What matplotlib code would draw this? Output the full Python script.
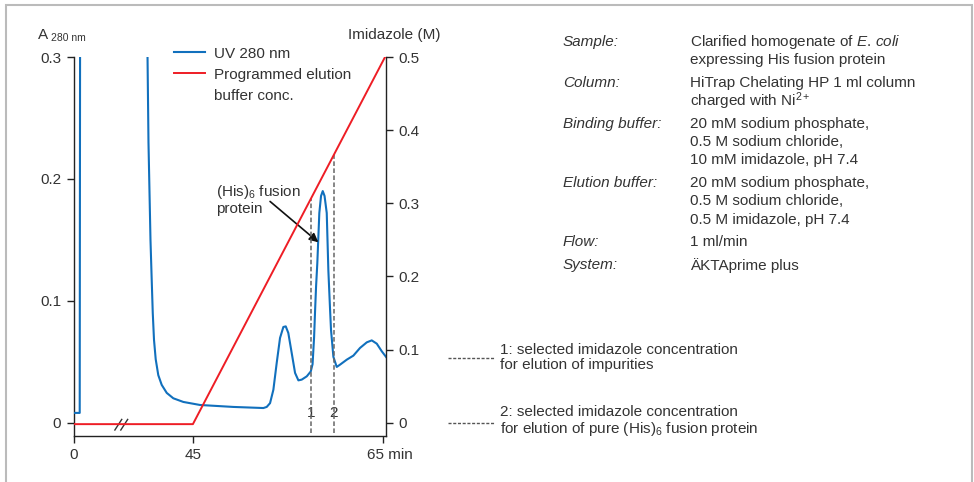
import numpy as np
import matplotlib
matplotlib.use("Agg")
import matplotlib.pyplot as plt
import matplotlib.transforms as mtransforms
from matplotlib.lines import Line2D
from matplotlib.patches import Rectangle

plt.rcParams['font.family'] = ['Liberation Sans', 'DejaVu Sans']
plt.rcParams['mathtext.fontset'] = 'custom'
plt.rcParams['mathtext.rm'] = 'Liberation Sans'
plt.rcParams['mathtext.it'] = 'Liberation Sans:italic'
plt.rcParams['mathtext.default'] = 'regular'
plt.rcParams['font.size'] = 11

TXT = '#333333'
BLUE = '#1170bd'
RED = '#ee1d25'

# UV 280 nm trace (min, A280); values above 0.3 run off the top of the plot
uv_time = [0, 0.6, 0.65, 40.21, 40.23, 40.33, 40.54, 40.67, 40.78, 40.91, 41.09,
           41.36, 41.72, 42.25, 42.94, 43.99, 45.75, 49.25, 52.41, 52.76, 53.11,
           53.46, 53.81, 54.16, 54.51, 54.76, 55.03, 55.39, 55.74, 56.09, 56.44,
           56.97, 57.39, 57.58, 57.74, 57.85, 57.95, 58.08, 58.29, 58.47, 58.65,
           58.84, 59.07, 59.24, 59.42, 59.52, 59.77, 60.12, 60.47, 61.18, 61.87,
           62.57, 63.28, 63.80, 64.33, 64.86, 65.31]
uv_abs = [0.008, 0.008, 0.40, 0.40, 0.30, 0.23, 0.15, 0.117, 0.090, 0.068, 0.052,
          0.039, 0.031, 0.0244, 0.020, 0.017, 0.0145, 0.0129, 0.012, 0.0129, 0.016,
          0.027, 0.049, 0.0695, 0.0785, 0.079, 0.0736, 0.057, 0.0408, 0.0347, 0.0353,
          0.038, 0.042, 0.048, 0.070, 0.093, 0.112, 0.131, 0.172, 0.186, 0.190,
          0.186, 0.172, 0.125, 0.0927, 0.076, 0.054, 0.0457, 0.0476, 0.0517, 0.055,
          0.0613, 0.0659, 0.0675, 0.0648, 0.0585, 0.0539]

# programmed elution buffer (min, imidazole M)
grad_time = [0, 45, 65.2]
grad_conc = [-0.002, -0.002, 0.5]

# selected imidazole concentrations
sel_time = [57.4, 59.8]
sel_label = ['1', '2']

xticks = [0, 45, 65]
xticklabels = ['0', '45', '65 min']
left_ticks = [0, 0.1, 0.2, 0.3]
left_ticklabels = ['0', '0.1', '0.2', '0.3']
right_ticks = [0, 0.1, 0.2, 0.3, 0.4, 0.5]
right_ticklabels = ['0', '0.1', '0.2', '0.3', '0.4', '0.5']

info_labels = ['Sample:', 'Column:', 'Binding buffer:', 'Elution buffer:', 'Flow:', 'System:']
info_values = [
    ['Clarified homogenate of $\\mathit{E.\\,coli}$', 'expressing His fusion protein'],
    ['HiTrap Chelating HP 1 ml column', 'charged with Ni$^{2+}$'],
    ['20 mM sodium phosphate,', '0.5 M sodium chloride,', '10 mM imidazole, pH 7.4'],
    ['20 mM sodium phosphate,', '0.5 M sodium chloride,', '0.5 M imidazole, pH 7.4'],
    ['1 ml/min'],
    ['ÄKTAprime plus'],
]
notes = [
    '1: selected imidazole concentration\nfor elution of impurities',
    '2: selected imidazole concentration\nfor elution of pure (His)$_6$ fusion protein',
]

# broken time axis: 5 .. 37.5 min is cut out
BRK0, BRK1 = 5.0, 37.5


def fwd(t):
    t = np.asarray(t, dtype=float)
    return np.where(t <= BRK0, t, np.where(t >= BRK1, t - (BRK1 - BRK0), BRK0))


def inv(u):
    u = np.asarray(u, dtype=float)
    return np.where(u <= BRK0, u, u + (BRK1 - BRK0))


W, H = 974, 482
fig = plt.figure(figsize=(W / 100, H / 100), dpi=100)
ax = fig.add_axes([74 / W, 1 - 435.7 / H, 312 / W, 378.7 / H])
ax.set_xscale('function', functions=(fwd, inv))
ax.set_xlim(0, 65.3)
ax.set_ylim(-0.0107, 0.3)

ax2 = ax.twinx()
ax2.set_ylim(-0.0178, 0.5)

ax.plot(uv_time, uv_abs, color=BLUE, lw=1.5, label='UV 280 nm', zorder=3)
ax2.plot(grad_time, grad_conc, color=RED, lw=1.4, zorder=3)

# dashed selection lines up to the gradient
tops = np.interp(sel_time, grad_time, grad_conc)
ax2.vlines(sel_time, -0.0145, tops, colors='#666666', lw=1.1,
           linestyles=(0, (3, 1.6)), zorder=2)
for t, lab in zip(sel_time, sel_label):
    ax.text(t, 0.0082, lab, ha='center', va='center', color=TXT, fontsize=11,
            bbox=dict(facecolor='white', edgecolor='none', pad=0.3), zorder=4)

# spines and ticks
for s in ['top', 'right']:
    ax.spines[s].set_visible(False)
for s in ['top', 'left', 'bottom']:
    ax2.spines[s].set_visible(False)
for a in (ax, ax2):
    for s in a.spines.values():
        s.set_color('#222222')
        s.set_linewidth(1.0)
ax.set_xticks(xticks)
ax.set_xticklabels(xticklabels)
ax.xaxis.set_minor_locator(matplotlib.ticker.NullLocator())
ax.set_yticks(left_ticks)
ax.set_yticklabels(left_ticklabels)
ax2.set_yticks(right_ticks)
ax2.set_yticklabels(right_ticklabels)
ax.tick_params(axis='both', length=5.2, width=1, color='#222222', labelcolor=TXT,
               labelsize=11, pad=4)
ax.tick_params(axis='x', pad=3.5)
ax2.tick_params(axis='y', length=5, width=1, color='#222222', labelcolor=TXT,
                labelsize=11, pad=3.6)
labs = ax.get_xticklabels()
labs[-1].set_transform(labs[-1].get_transform() +
                       mtransforms.ScaledTranslation(7 / 100, 0, fig.dpi_scale_trans))

# break mark on the time axis
for x0 in (0.131, 0.150):
    ax.plot([x0, x0 + 0.022], [0.015, 0.043], transform=ax.transAxes,
            color='#333333', lw=1.0, clip_on=False, zorder=5)

# annotation of the target peak
ax.text(47.43, 0.183, '(His)$_6$ fusion\nprotein', ha='left', va='center',
        color=TXT, fontsize=11, linespacing=1.1)
ax.annotate('', xy=(58.19, 0.148), xytext=(53.11, 0.1815),
            arrowprops=dict(arrowstyle='-|>', color='#111111', lw=1.2,
                            mutation_scale=13, shrinkA=0, shrinkB=0))

# legend
handles = [Line2D([], [], color=BLUE, lw=1.5),
           Line2D([], [], color=RED, lw=1.4),
           Line2D([], [], color='none')]
ax.legend(handles, ['UV 280 nm', 'Programmed elution', 'buffer conc.'],
          loc='upper left', bbox_to_anchor=(0.3205, 1.027), frameon=False,
          borderpad=0, borderaxespad=0, handlelength=2.05, handletextpad=0.6,
          labelspacing=0.45, fontsize=11, labelcolor=TXT)

# axis titles
fig.text(38 / W, 1 - 35 / H, 'A', ha='left', va='center', color=TXT, fontsize=11)
fig.text(51 / W, 1 - 38.5 / H, '280 nm', ha='left', va='center', color=TXT, fontsize=7.5)
fig.text(394 / W, 1 - 35 / H, 'Imidazole (M)', ha='center', va='center', color=TXT,
         fontsize=11)

# run conditions
y = 42.0
for lab, vals in zip(info_labels, info_values):
    fig.text(563 / W, 1 - y / H, lab, ha='left', va='center', color=TXT,
             fontsize=11, style='italic')
    for v in vals:
        fig.text(690 / W, 1 - y / H, v, ha='left', va='center', color=TXT, fontsize=11)
        y += 18.2
    y += 4.6

# notes for the dashed lines
for note, yp, yd in zip(notes, [357.5, 421.8], [358, 422.7]):
    fig.add_artist(Line2D([448 / W, 494 / W], [1 - yd / H, 1 - yd / H], color='#555555',
                          lw=1.0, linestyle=(0, (2.2, 1.2))))
    fig.text(500 / W, 1 - yp / H, note, ha='left', va='center', color=TXT,
             fontsize=11, linespacing=1.1)

# light frame around the figure
fig.add_artist(Rectangle((6 / W, -0.05), 966 / W, 1.05 - 4.5 / H, transform=fig.transFigure,
                         fill=False, edgecolor='#bbbbbb', lw=1.5))

fig.savefig('out.png', dpi=100)
